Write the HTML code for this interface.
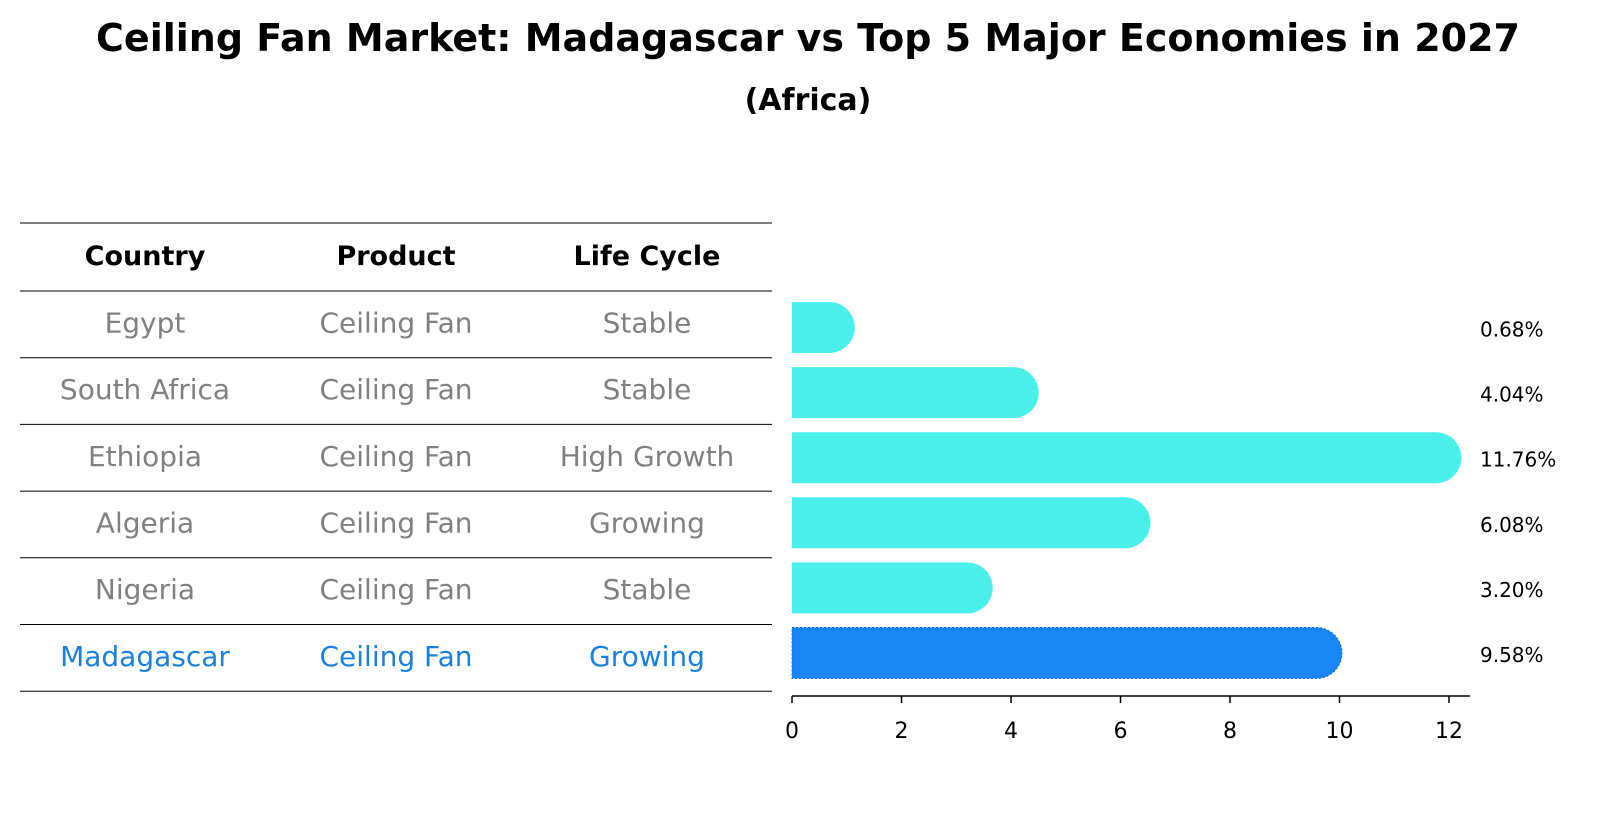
<!DOCTYPE html>
<html><head><meta charset="utf-8">
<style>
body{margin:0;background:#fff;font-family:"Liberation Sans","DejaVu Sans",sans-serif;}
svg text{font-family:"DejaVu Sans","Liberation Sans",sans-serif;}
</style></head>
<body>
<svg id="chart" width="1604" height="823" xmlns="http://www.w3.org/2000/svg">
<text x="808" y="51" text-anchor="middle" font-size="38" font-weight="bold">Ceiling Fan Market: Madagascar vs Top 5 Major Economies in 2027</text>
<text x="808" y="110" text-anchor="middle" font-size="30" font-weight="bold">(Africa)</text>
<g id="table"></g>
<g id="bars"></g>
<g id="axis"></g>
</svg>
<script>
const countries=["Egypt","South Africa","Ethiopia","Algeria","Nigeria","Madagascar"];
const products=["Ceiling Fan","Ceiling Fan","Ceiling Fan","Ceiling Fan","Ceiling Fan","Ceiling Fan"];
const lifeCycles=["Stable","Stable","High Growth","Growing","Stable","Growing"];
const values=[0.68,4.04,11.76,6.08,3.20,9.58];
const valueLabels=["0.68%","4.04%","11.76%","6.08%","3.20%","9.58%"];
const xTicks=[0,2,4,6,8,10,12];
const headers=["Country","Product","Life Cycle"];

const NS="http://www.w3.org/2000/svg";
function mk(tag,attrs,parent){const e=document.createElementNS(NS,tag);for(const k in attrs)e.setAttribute(k,attrs[k]);parent.appendChild(e);return e;}
const x0=792,pxPerUnit=54.75;
function xs(v){return x0+v*pxPerUnit;}
const rowTop=291,rowH=66.7;
function rowY(i){return rowTop+rowH*i+rowH/2;}
const barTop=327.5,barStep=65.1;
function barY(i){return barTop+barStep*i;}

const table=document.getElementById('table');
const colX=[145,396,647];
for(let i=0;i<=7;i++){
  const y=i===0?223:rowTop+rowH*(i-1);
  const l=mk('line',{x1:20,x2:772,y1:y,y2:y,stroke:'#000','stroke-width':1},table);
  
  
}
headers.forEach((h,j)=>{
  const t=mk('text',{x:colX[j],y:265,'text-anchor':'middle','font-size':27,'font-weight':'bold'},table);
  t.textContent=h;
  
  
});
countries.forEach((c,i)=>{
  const col=i===countries.length-1?'#1a80e0':'#808080';
  [c,products[i],lifeCycles[i]].forEach((v,j)=>{
    const t=mk('text',{x:colX[j],y:rowY(i)+8,'text-anchor':'middle','font-size':28,fill:col},table);
    t.textContent=v;
    
    
  });
});

const bars=document.getElementById('bars');
const r=25.5;
values.forEach((v,i)=>{
  const yc=barY(i);
  const xe=xs(v);
  const hl=i===values.length-1;
  const fill=hl?'#1a86f5':'#4aefea';
  const d=`M${x0},${yc-r} L${xe},${yc-r} A${r},${r} 0 0 1 ${xe},${yc+r} L${x0},${yc+r} Z`;
  const p=mk('path',{d:d,fill:fill},bars);
  if(hl){p.setAttribute('stroke','#1070d0');p.setAttribute('stroke-dasharray','2,2');p.setAttribute('stroke-width','1');}
  
  
  const t=mk('text',{x:1480,y:yc+9,'font-size':20},bars);
  t.textContent=valueLabels[i];
  
  
});

const axis=document.getElementById('axis');
const al=mk('line',{x1:792,x2:1470,y1:696,y2:696,stroke:'#000','stroke-width':1.5},axis);


xTicks.forEach(v=>{
  const l=mk('line',{x1:xs(v),x2:xs(v),y1:696,y2:703,stroke:'#000','stroke-width':1.5},axis);
  
  
  const t=mk('text',{x:xs(v),y:738,'text-anchor':'middle','font-size':22},axis);
  t.textContent=v;
  
  
});
</script>
</body></html>
